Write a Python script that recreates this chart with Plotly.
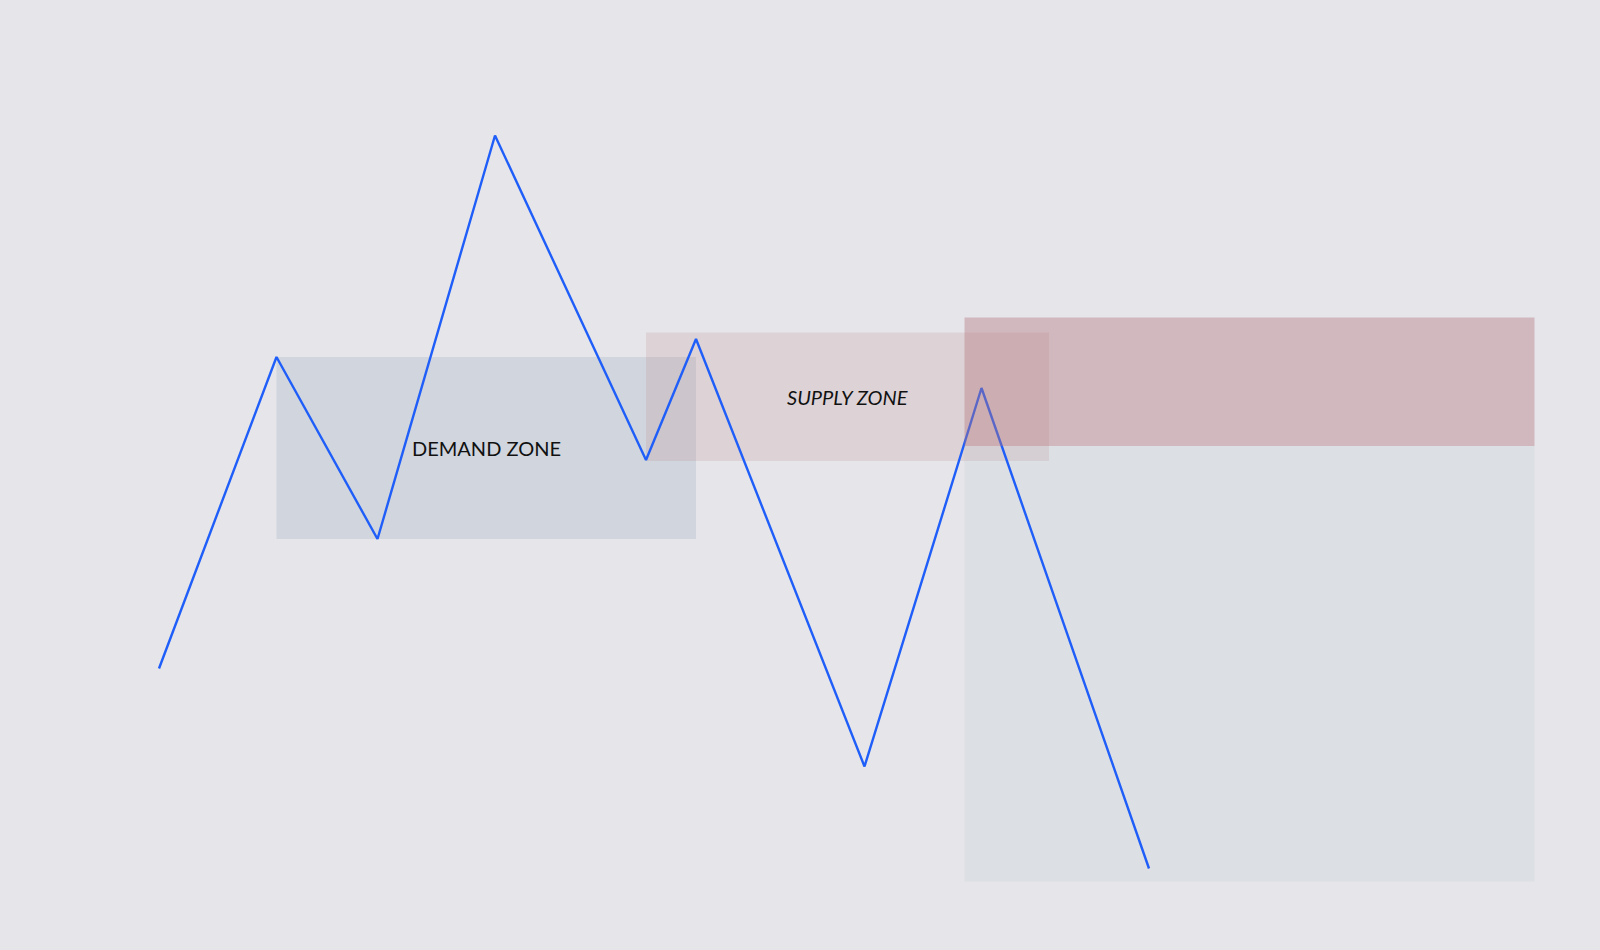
import plotly.graph_objects as go

# price path (swing points)
swing_x = [15.9, 27.65, 37.75, 49.5, 64.6, 69.6, 86.45, 98.15, 114.9]
swing_y = [28.15, 59.3, 41.1, 81.45, 49.0, 61.1, 18.35, 56.2, 8.15]

# zones: x0, x1, y0, y1
demand_zone = [27.65, 69.6, 41.1, 59.3]
supply_zone = [64.6, 104.9, 48.9, 61.75]
target_supply = [96.45, 153.45, 50.4, 63.25]
target_range = [96.45, 153.45, 6.85, 50.4]

zone_labels = ['DEMAND ZONE', 'SUPPLY ZONE']

fig = go.Figure()

fig.add_trace(go.Scatter(
    x=swing_x,
    y=swing_y,
    mode='lines',
    line=dict(color='#1F5EF8', width=2.4),
    showlegend=False,
    hoverinfo='skip'
))


def add_zone(z, color, layer):
    fig.add_shape(type='rect', xref='x', yref='y',
                  x0=z[0], x1=z[1], y0=z[2], y1=z[3],
                  fillcolor=color, line=dict(width=0), layer=layer)


add_zone(demand_zone, 'rgba(124,149,174,0.2)', 'below')
add_zone(supply_zone, 'rgba(189,139,134,0.2)', 'below')
add_zone(target_range, 'rgba(170,190,195,0.15)', 'below')
add_zone(target_supply, 'rgba(179,117,124,0.4)', 'above')

fig.add_annotation(
    x=(demand_zone[0] + demand_zone[1]) / 2,
    y=(demand_zone[2] + demand_zone[3]) / 2,
    text=zone_labels[0], showarrow=False,
    font=dict(family='Lato', size=20, color='#111111')
)
fig.add_annotation(
    x=(supply_zone[0] + supply_zone[1]) / 2,
    y=(supply_zone[2] + supply_zone[3]) / 2,
    text='<i>' + zone_labels[1] + '</i>', showarrow=False,
    font=dict(family='Lato', size=20, color='#111111')
)

fig.update_layout(
    width=1600,
    height=950,
    margin=dict(l=0, r=0, t=0, b=0),
    paper_bgcolor='#E5E5EA',
    plot_bgcolor='#E5E5EA',
    xaxis=dict(range=[0, 160], visible=False, fixedrange=True),
    yaxis=dict(range=[0, 95], visible=False, fixedrange=True),
)

# no white page border around the chart
page_css = ("document.body.style.margin='0';"
            "document.body.style.background='#E5E5EA';"
            "document.body.style.overflow='hidden';")

fig.write_html("out.html", post_script=page_css,
               config={'displayModeBar': False})
